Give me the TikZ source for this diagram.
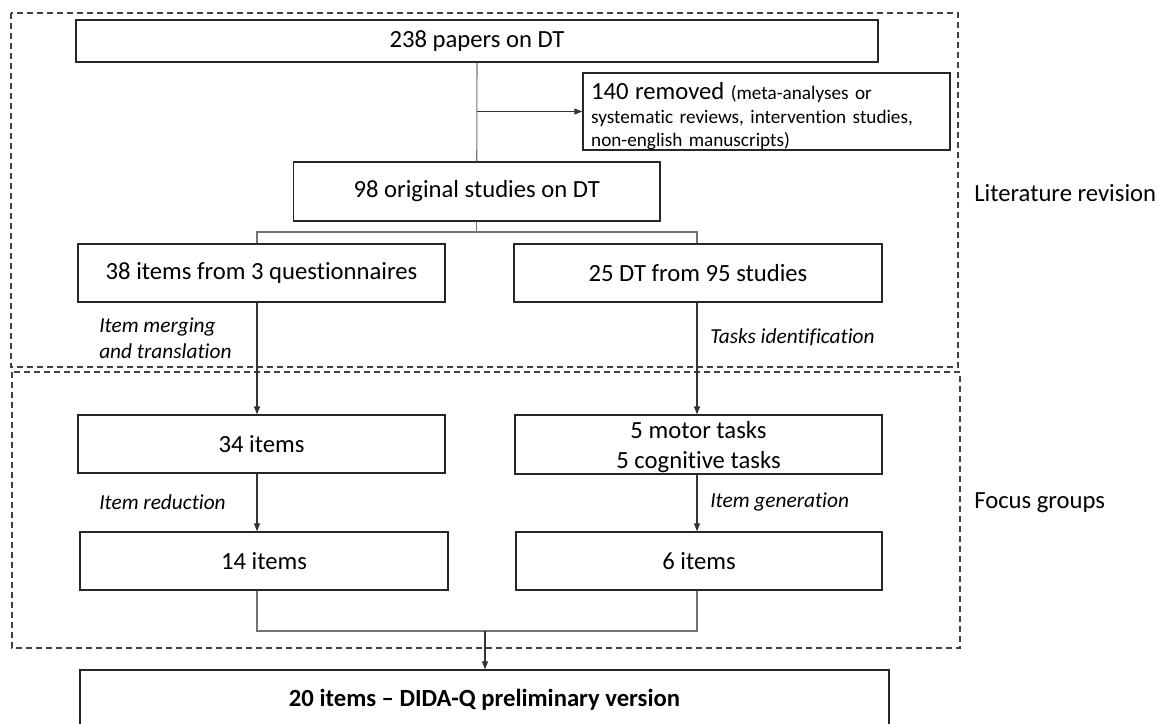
\documentclass[tikz,border=0pt]{standalone}
\usepackage{fontspec}
\setmainfont{Carlito}[Ligatures=NoCommon]
\usetikzlibrary{arrows.meta}
\newcommand{\mainfs}{\fontsize{18.5pt}{22.5pt}\selectfont}
\newcommand{\smallfs}{\fontsize{14.4pt}{17.6pt}\selectfont}
\newcommand{\labfs}{\fontsize{16pt}{19.5pt}\selectfont\itshape}
\begin{document}
\begin{tikzpicture}[x=0.75pt,y=-0.75pt,
  box/.style={draw=black!85, line width=1pt, inner sep=0pt, align=center, font=\mainfs},
  conn/.style={draw=black!55, line width=0.8pt},
  arr/.style={draw=black!80, line width=0.8pt, -{Triangle[length=6pt,width=4.5pt]}},
  dashbox/.style={draw=black!75, line width=1pt, dash pattern=on 4.5pt off 3pt},
  lab/.style={anchor=west, inner sep=0pt, align=left, font=\labfs},
  side/.style={anchor=west, inner sep=0pt, font=\mainfs}]
\useasboundingbox (0,0) rectangle (1161,724);
% dashed frames
\draw[dashbox] (11,13) rectangle (958,367);
\draw[dashbox] (12,372) rectangle (960,648);
% boxes
\node[box, minimum width=601.5pt, minimum height=31.5pt] (b238) at (477,41) {238 papers on DT};
\node[box, minimum width=275.25pt, minimum height=57.75pt, align=left, text width=263pt, inner xsep=6pt, font=\smallfs] (b140) at (766.5,111.5)
  {\rule{0pt}{20pt}{\fontsize{18.5pt}{17.6pt}\selectfont 140 removed} (meta-analyses or\\systematic reviews, intervention studies,\\non-english manuscripts)};
\node[box, minimum width=274.9pt, minimum height=44.25pt] (b98) at (476.75,191.5) {98 original studies on DT};
\node[box, minimum width=275.25pt, minimum height=43.5pt] (b38) at (261.5,273) {38 items from 3 questionnaires};
\node[box, minimum width=276pt, minimum height=43.5pt] (b25) at (698,273) {25 DT from 95 studies};
\node[box, minimum width=275.25pt, minimum height=43.5pt] (b34) at (261.5,444) {34 items};
\node[box, minimum width=275.25pt, minimum height=44.25pt] (b5) at (698.5,444.5) {\rule{0pt}{16pt}5 motor tasks\\5 cognitive tasks};
\node[box, minimum width=276pt, minimum height=43.5pt] (b14) at (264,561) {14 items};
\node[box, minimum width=274.5pt, minimum height=43.5pt] (b6) at (699,561) {6 items};
\node[box, minimum width=606.75pt, minimum height=45pt, font=\mainfs\bfseries] (b20) at (484.5,700) {20 items -- DIDA-Q preliminary version};
% side labels
\node[side] (litrev) at (974,193) {Literature revision};
\node[side] (focus) at (974,503) {Focus groups};
% step labels
\node[lab] (merge) at (99,338) {Item merging\\and translation};
\node[lab] (tasks) at (710,337) {Tasks identification};
\node[lab] (reduc) at (99,502) {Item reduction};
\node[lab] (gener) at (710,502) {Item generation};
% coordinates
\coordinate (cL) at (257,232);
\coordinate (cR) at (697,232);
\coordinate (mg) at (485,631);
% connectors
\draw[conn] (b238.south) -- (b98.north);
\draw[arr] (b238.south |- b140.west) -- (b140.west);
\draw[conn] (b98.south) -- (b98.south |- cL);
\draw[conn] (b38.north -| cL) -- (cL) -- (cR) -- (b25.north -| cR);
\draw[arr] (b38.south -| cL) -- (b34.north -| cL);
\draw[arr] (b34.south -| cL) -- (b14.north -| cL);
\draw[arr] (b25.south -| cR) -- (b5.north -| cR);
\draw[arr] (b5.south -| cR) -- (b6.north -| cR);
\draw[conn] (b14.south -| cL) |- (mg) -| (b6.south -| cR);
\draw[arr] (mg) -- (b20.north -| mg);
\end{tikzpicture}
\end{document}
